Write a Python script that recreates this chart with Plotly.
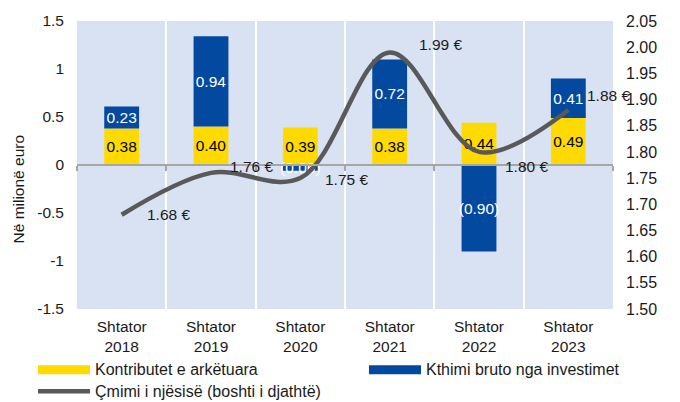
import plotly.graph_objects as go

# --- data -------------------------------------------------------------
years = ["2018", "2019", "2020", "2021", "2022", "2023"]
month = "Shtator"
contributions = [0.38, 0.40, 0.39, 0.38, 0.44, 0.49]      # Kontributet e arkëtuara
returns = [0.23, 0.94, -0.06, 0.72, -0.90, 0.41]          # Kthimi bruto nga investimet
unit_price = [1.68, 1.76, 1.75, 1.99, 1.80, 1.88]         # Çmimi i njësisë (€)

series_names = [
    "Kontributet e arkëtuara",
    "Kthimi bruto nga investimet",
    "Çmimi i njësisë (boshti i djathtë)",
]
left_ticks = [-1.5, -1.0, -0.5, 0.0, 0.5, 1.0, 1.5]
left_tick_text = ["-1.5", "-1", "-0.5", "0", "0.5", "1", "1.5"]
right_ticks = [1.50, 1.55, 1.60, 1.65, 1.70, 1.75, 1.80, 1.85, 1.90, 1.95, 2.00, 2.05]

# --- styling ----------------------------------------------------------
FONT = "Liberation Sans, Arial, sans-serif"
YELLOW = "#FFDA00"
BLUE = "#0449A0"
LINE = "#595959"
BG = "#D9E2F3"
AXIS = "#A6A6A6"
TXT = "#1a1a1a"
FS = 15.5

# pixel offsets of the price labels from their points (right, up)
price_label_shift = [(23, 0), (17, 6), (23, -1), (27, 8), (24, -15), (17, 15)]

categories = [f"{month}<br>{y}" for y in years]
cat_range = [-0.5, len(categories) - 0.5]


def fmt(v):
    return f"({abs(v):.2f})" if v < 0 else f"{v:.2f}"


fig = go.Figure()

fig.add_trace(go.Bar(
    x=categories, y=contributions, name=series_names[0],
    marker=dict(color=YELLOW, line=dict(width=0)),
    text=[fmt(v) for v in contributions], textposition="inside",
    insidetextanchor="middle", constraintext="none", textangle=0,
    textfont=dict(family=FONT, size=FS, color="#000000"),
    showlegend=False,
))
fig.add_trace(go.Bar(
    x=categories, y=returns, name=series_names[1],
    marker=dict(color=BLUE, line=dict(width=0)),
    text=[fmt(v) for v in returns], textposition="inside",
    insidetextanchor="middle", constraintext="none", textangle=0,
    textfont=dict(family=FONT, size=FS, color="#FFFFFF"),
    showlegend=False,
))
fig.add_trace(go.Scatter(
    x=categories, y=unit_price, name=series_names[2], yaxis="y2",
    mode="lines",
    line=dict(color=LINE, width=4.5, shape="spline", smoothing=1.0),
    showlegend=False,
))
# carrier for the zero-level category axis (ticks at category boundaries)
fig.add_trace(go.Scatter(
    x=categories, y=[0] * len(categories), xaxis="x2", mode="lines",
    line=dict(width=0), opacity=0, hoverinfo="skip", showlegend=False,
))

annotations = []
for cat, v, (dx, dy) in zip(categories, unit_price, price_label_shift):
    annotations.append(dict(
        x=cat, y=v, xref="x", yref="y2", text=f"{v:.2f} €",
        showarrow=False, xanchor="left", yanchor="middle",
        xshift=dx, yshift=dy, font=dict(family=FONT, size=FS, color=TXT),
    ))

# --- hand-built legend -----------------------------------------------
PLOT_L, PLOT_R, PLOT_T, PLOT_B = 77, 613, 15, 309
W, H = 680, 402


def px_x(p):
    return (p - PLOT_L) / (PLOT_R - PLOT_L)


def px_y(p):
    return (PLOT_B - p) / (PLOT_B - PLOT_T)


legend_items = [
    (series_names[0], "bar", YELLOW, 38, 371),
    (series_names[1], "bar", BLUE, 369, 371),
    (series_names[2], "line", LINE, 38, 393),
]
shapes = []
for name, kind, color, x0, yc in legend_items:
    if kind == "bar":
        shapes.append(dict(type="rect", xref="paper", yref="paper",
                           x0=px_x(x0), x1=px_x(x0 + 52),
                           y0=px_y(yc + 4.5), y1=px_y(yc - 4.5),
                           fillcolor=color, line=dict(width=0)))
    else:
        shapes.append(dict(type="line", xref="paper", yref="paper",
                           x0=px_x(x0), x1=px_x(x0 + 52),
                           y0=px_y(yc), y1=px_y(yc),
                           line=dict(color=color, width=4.5)))
    annotations.append(dict(text=name, xref="paper", yref="paper",
                            x=px_x(x0 + 55), y=px_y(yc), xanchor="left",
                            yanchor="middle", showarrow=False,
                            font=dict(family=FONT, size=16, color=TXT)))

# left axis title
annotations.append(dict(text="Në milionë euro", xref="paper", yref="paper",
                        x=px_x(18), y=px_y(187), textangle=-90,
                        xanchor="center", yanchor="middle", showarrow=False,
                        font=dict(family=FONT, size=FS, color=TXT)))

fig.update_layout(
    width=W, height=H,
    margin=dict(l=PLOT_L, r=W - PLOT_R, t=PLOT_T, b=H - PLOT_B),
    paper_bgcolor="#FFFFFF", plot_bgcolor=BG,
    barmode="relative", bargap=0.61,
    font=dict(family=FONT, size=FS, color=TXT),
    shapes=shapes, annotations=annotations,
    xaxis=dict(
        type="category", range=cat_range, tickson="boundaries", showgrid=True,
        gridcolor="#FFFFFF", gridwidth=1.5, ticks="", showline=False,
        zeroline=False, ticklabelstandoff=6,
        tickfont=dict(family=FONT, size=FS, color=TXT),
    ),
    xaxis2=dict(
        type="category", overlaying="x", matches="x", anchor="free",
        position=0.5, side="bottom", showline=True, linecolor=AXIS,
        linewidth=1.5, ticks="outside", tickson="boundaries", ticklen=5,
        tickcolor=AXIS, tickwidth=1.5, showticklabels=False, showgrid=False,
        zeroline=False,
    ),
    yaxis=dict(
        range=[-1.5, 1.5], tickvals=left_ticks, ticktext=left_tick_text,
        showgrid=False, zeroline=False, ticks="", ticklabelstandoff=12,
        tickfont=dict(family=FONT, size=FS, color=TXT),
    ),
    yaxis2=dict(
        range=[1.50, 2.05], tickvals=right_ticks, tickformat=".2f",
        ticksuffix=" €", overlaying="y", side="right", showgrid=False,
        zeroline=False, ticks="", ticklabelstandoff=12,
        tickfont=dict(family=FONT, size=16, color=TXT),
    ),
)

fig.write_html("out.html")
